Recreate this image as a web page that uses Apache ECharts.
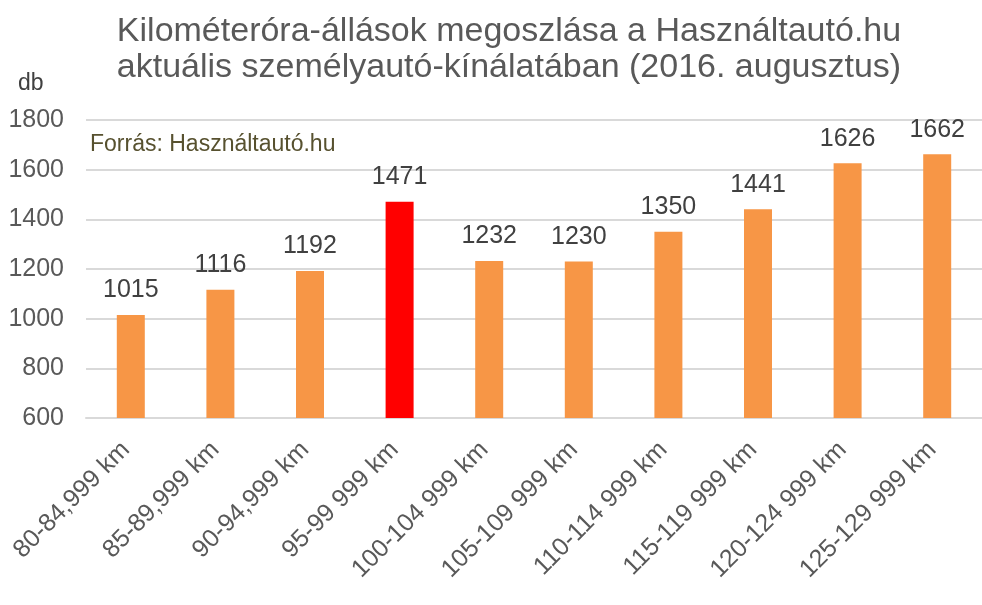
<!DOCTYPE html>
<html>
<head>
<meta charset="utf-8">
<script src="https://cdn.jsdelivr.net/npm/echarts@6/dist/echarts.min.js"></script>
<style>
html,body{margin:0;padding:0;background:#fff;}
#chart{width:982px;height:605px;}
</style>
</head>
<body>
<div id="chart"></div>
<script>
var categories = ["80-84,999 km","85-89,999 km","90-94,999 km","95-99 999 km","100-104 999 km","105-109 999 km","110-114 999 km","115-119 999 km","120-124 999 km","125-129 999 km"];
var values = [1015,1116,1192,1471,1232,1230,1350,1441,1626,1662];
var highlightIndex = 3;
var yTicks = {min: 600, max: 1800, interval: 200};
var titleLines = ["Kilométeróra-állások megoszlása a Használtautó.hu", "aktuális személyautó-kínálatában (2016. augusztus)"];
var unitLabel = "db";
var sourceLabel = "Forrás: Használtautó.hu";

var FONT = "'Liberation Sans', Arial, sans-serif";
var chart = echarts.init(document.getElementById('chart'), null, {renderer: 'canvas'});
chart.setOption({
  backgroundColor: '#ffffff',
  animation: false,
  title: {
    text: titleLines.join('\n'),
    left: 504,
    textAlign: 'center',
    top: 9,
    textStyle: {fontFamily: FONT, fontSize: 34, fontWeight: 'normal', color: '#595959', lineHeight: 36}
  },
  graphic: [
    {type: 'text', left: 18, top: 72, style: {text: unitLabel, fontFamily: FONT, fontSize: 23, fill: '#404040'}},
    {type: 'text', left: 90, top: 133, style: {text: sourceLabel, fontFamily: FONT, fontSize: 23, fill: '#57512f'}}
  ],
  grid: {left: 86, top: 120, width: 903, height: 298, containLabel: false},
  xAxis: {
    type: 'category',
    data: categories,
    axisLine: {show: true, lineStyle: {color: '#d9d9d9', width: 2}},
    axisTick: {show: false},
    axisLabel: {rotate: 45, margin: 23, padding: [0, 7, 0, 0], interval: 0, fontFamily: FONT, fontSize: 25, color: '#595959'}
  },
  yAxis: {
    type: 'value',
    min: yTicks.min, max: yTicks.max, interval: yTicks.interval,
    axisLine: {show: false},
    axisTick: {show: false},
    splitLine: {lineStyle: {color: '#d9d9d9', width: 2}},
    axisLabel: {margin: 22, fontFamily: FONT, fontSize: 25, color: '#595959', formatter: function (v) { return String(v); }}
  },
  series: [{
    type: 'bar',
    barWidth: 28,
    data: values.map(function (v, i) {
      return {value: v, itemStyle: {color: i === highlightIndex ? '#ff0000' : '#f79646'}};
    }),
    label: {show: true, position: 'top', distance: 12, fontFamily: FONT, fontSize: 25, color: '#404040'}
  }]
});
</script>
</body>
</html>
